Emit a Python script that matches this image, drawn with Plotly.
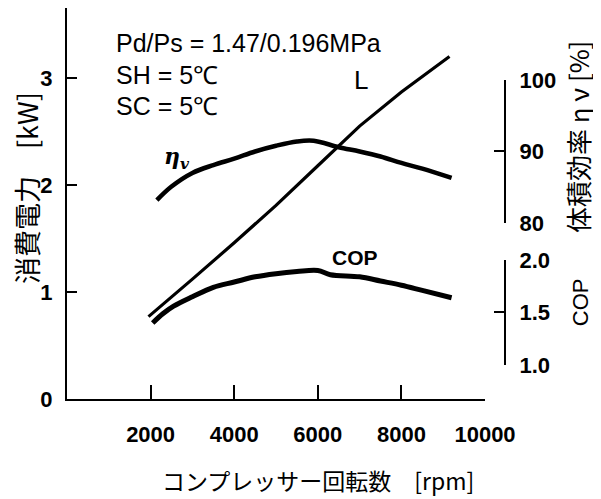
import plotly.graph_objects as go

# ---- data ----
rpm_L = [1950, 2500, 3000, 4000, 5000, 6000, 7000, 8000, 9150]
power_kw = [0.77, 0.95, 1.12, 1.46, 1.81, 2.18, 2.55, 2.87, 3.20]

rpm_eta = [2150, 2500, 3000, 3500, 4000, 4500, 5000, 5500, 5900, 6500, 7000, 7500, 8000, 8500, 9200]
eta_v = [83.2, 85.1, 87.0, 88.1, 89.0, 90.0, 90.8, 91.4, 91.5, 90.6, 90.0, 89.3, 88.4, 87.6, 86.3]

rpm_cop = [2050, 2300, 2550, 3000, 3500, 4000, 4500, 5000, 5500, 6000, 6300, 7000, 7500, 8000, 8500, 9200]
cop = [1.40, 1.49, 1.56, 1.65, 1.74, 1.79, 1.84, 1.87, 1.89, 1.90, 1.86, 1.84, 1.80, 1.76, 1.71, 1.64]

x_ticks = [2000, 4000, 6000, 8000, 10000]
x_ticklabels = ["2000", "4000", "6000", "8000", "10000"]
kw_ticks = [0, 1, 2, 3]
eta_ticks = [80, 90, 100]
cop_ticks = [1.0, 1.5, 2.0]
cop_ticklabels = ["1.0", "1.5", "2.0"]

SANS = "Liberation Sans, Arial, sans-serif"
JP = "Noto Sans CJK JP, sans-serif"

fig = go.Figure()
fig.add_trace(go.Scatter(x=rpm_L, y=power_kw, mode="lines", xaxis="x", yaxis="y",
                         line=dict(color="black", width=3.2), showlegend=False))
fig.add_trace(go.Scatter(x=rpm_eta, y=eta_v, mode="lines", xaxis="x", yaxis="y2",
                         line=dict(color="black", width=4.5, shape="spline"), showlegend=False))
fig.add_trace(go.Scatter(x=rpm_cop, y=cop, mode="lines", xaxis="x", yaxis="y3",
                         line=dict(color="black", width=5, shape="spline"), showlegend=False))

tickfont = dict(family=SANS, size=22, color="black", weight="bold")

fig.update_layout(
    template="none",
    width=601, height=499,
    margin=dict(l=59, r=20, t=0, b=108, autoexpand=False),
    paper_bgcolor="white", plot_bgcolor="rgba(0,0,0,0)",
    xaxis=dict(domain=[0, 0.8008], range=[0, 10000], showline=True, linecolor="black",
               linewidth=2, ticks="inside", ticklen=14, tickwidth=2, tickcolor="black",
               tickvals=x_ticks, ticktext=x_ticklabels, showgrid=False, zeroline=False,
               tickfont=tickfont, ticklabelstandoff=15, anchor="y", automargin=False),
    yaxis=dict(domain=[0, 1], range=[0, 3.654], showline=True, linecolor="black",
               linewidth=2, ticks="inside", ticklen=10, tickwidth=2, tickcolor="black",
               tickvals=kw_ticks, showgrid=False, zeroline=False, tickfont=tickfont,
               ticklabelstandoff=8, anchor="x", automargin=False),
    yaxis2=dict(domain=[0.4501, 0.8159], range=[80, 100], anchor="free", position=0.8391,
                side="right", showline=True, linecolor="black", linewidth=2,
                ticks="inside", ticklen=10, tickwidth=2, tickcolor="black",
                tickvals=eta_ticks, showgrid=False, zeroline=False, tickfont=tickfont,
                ticklabelstandoff=9, automargin=False),
    yaxis3=dict(domain=[0.0870, 0.3555], range=[1.0, 2.0], anchor="free", position=0.8391,
                side="right", showline=True, linecolor="black", linewidth=2,
                ticks="inside", ticklen=10, tickwidth=2, tickcolor="black",
                tickvals=cop_ticks, ticktext=cop_ticklabels, showgrid=False,
                zeroline=False, tickfont=tickfont, ticklabelstandoff=9, automargin=False),
)

ann = []
for txt, yv in [("Pd/Ps = 1.47/0.196MPa", 3.33), ("SH = 5℃", 3.03), ("SC = 5℃", 2.74)]:
    ann.append(dict(text=txt, x=1130, y=yv, xref="x", yref="y",
                    xanchor="left", yanchor="middle", showarrow=False,
                    font=dict(family=SANS, size=25, color="black")))
ann.append(dict(text="L", x=7030, y=2.98, xref="x", yref="y", showarrow=False,
                xanchor="center", yanchor="middle",
                font=dict(family=SANS, size=26, color="black")))
ann.append(dict(text="<i>η<sub>v</sub></i>", x=2623, y=2.25, xref="x", yref="y",
                xanchor="center", yanchor="middle", showarrow=False,
                font=dict(family="DejaVu Serif, serif", size=22, color="black", weight="bold")))
ann.append(dict(text="COP", x=6900, y=1.32, xref="x", yref="y", showarrow=False,
                xanchor="center", yanchor="middle",
                font=dict(family=SANS, size=21, color="black", weight="bold")))
# axis titles
ann.append(dict(text="消費電力　[kW]", x=-0.0785, y=0.5396, xref="paper", yref="paper",
                xanchor="center", yanchor="middle", textangle=-90, showarrow=False,
                font=dict(family=JP, size=27, color="black")))
ann.append(dict(text="体積効率 η ν [%]", x=0.977, y=0.670, xref="paper", yref="paper",
                xanchor="center", yanchor="middle", textangle=-90, showarrow=False,
                font=dict(family=JP, size=26, color="black")))
ann.append(dict(text="COP", x=0.983, y=0.248, xref="paper", yref="paper",
                xanchor="center", yanchor="middle", textangle=-90, showarrow=False,
                font=dict(family=SANS, size=22, color="black")))
ann.append(dict(text="コンプレッサー回転数　[rpm]", x=0.481, y=-0.207, xref="paper",
                yref="paper", xanchor="center", yanchor="middle", showarrow=False,
                font=dict(family=JP, size=23, color="black")))
fig.update_layout(annotations=ann)

fig.write_html("out.html")
